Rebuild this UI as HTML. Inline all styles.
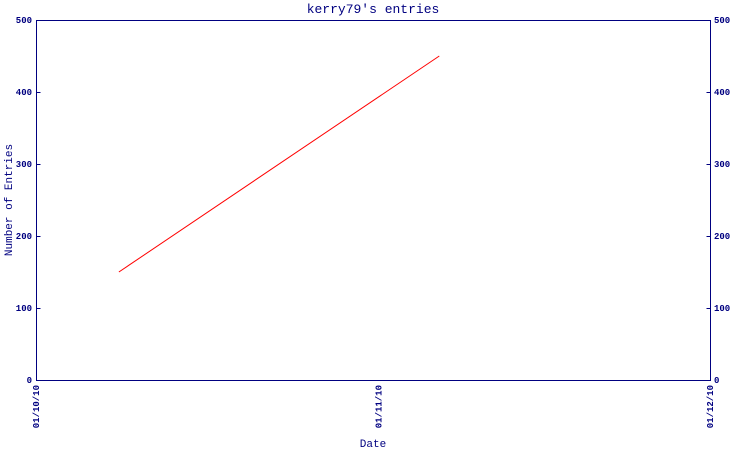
<!DOCTYPE html>
<html><head><meta charset="utf-8"><style>
body{margin:0;background:#fff;width:750px;height:450px;overflow:hidden}
svg text{font-family:"Liberation Mono",monospace;fill:#000080}
</style></head><body>
<svg width="750" height="450">
<text x="373" y="13" text-anchor="middle" font-size="13">kerry79's entries</text>
<rect x="36.5" y="20.5" width="674" height="360" fill="none" stroke="#000080" stroke-width="1"/>
<g id="yt"></g><g id="xt"></g>
<text x="373" y="447" text-anchor="middle" font-size="11">Date</text>
<text transform="translate(12,200) rotate(-90)" text-anchor="middle" font-size="11">Number of Entries</text>
<polyline id="line" fill="none" stroke="#ff0000" stroke-width="1"/>
</svg>
<script>
const yTicks=[0,100,200,300,400,500];
const xTickLabels=["01/10/10","01/11/10","01/12/10"];
const xTickDays=[0,31,61];
const pointDays=[7.5,36.5];
const pointValues=[150,450];
const L=36,R=710,T=20,B=380;
const ys=v=>B-(v/500)*(B-T);
const xs=d=>L+d/61*(R-L);
const ns="http://www.w3.org/2000/svg";
const yg=document.getElementById('yt'),xg=document.getElementById('xt');
yTicks.forEach(v=>{
 const y=ys(v);
 const t=document.createElementNS(ns,'text');
 t.setAttribute('x',32);t.setAttribute('y',y+3);t.setAttribute('text-anchor','end');t.setAttribute('font-size','9');t.setAttribute('font-weight','bold');
 
 
 t.textContent=v;yg.appendChild(t);
 const t2=document.createElementNS(ns,'text');
 t2.setAttribute('x',714);t2.setAttribute('y',y+3);t2.setAttribute('font-size','9');t2.setAttribute('font-weight','bold');
 
 
 t2.textContent=v;yg.appendChild(t2);
 [[36.5,40.5],[706.5,710.5]].forEach(p=>{
  const l=document.createElementNS(ns,'line');
  l.setAttribute('x1',p[0]);l.setAttribute('x2',p[1]);l.setAttribute('y1',Math.round(y)+0.5);l.setAttribute('y2',Math.round(y)+0.5);l.setAttribute('stroke','#000080');
  
  
  yg.appendChild(l);
 });
});
xTickLabels.forEach((s,i)=>{
 const x=xs(xTickDays[i]);
 const t=document.createElementNS(ns,'text');
 t.setAttribute('transform','translate('+(x+3)+',385) rotate(-90)');t.setAttribute('text-anchor','end');t.setAttribute('font-size','9');t.setAttribute('font-weight','bold');
 
 
 t.textContent=s;xg.appendChild(t);
});
document.getElementById('line').setAttribute('points',pointDays.map((d,i)=>xs(d)+','+ys(pointValues[i])).join(' '));
</script>
</body></html>
